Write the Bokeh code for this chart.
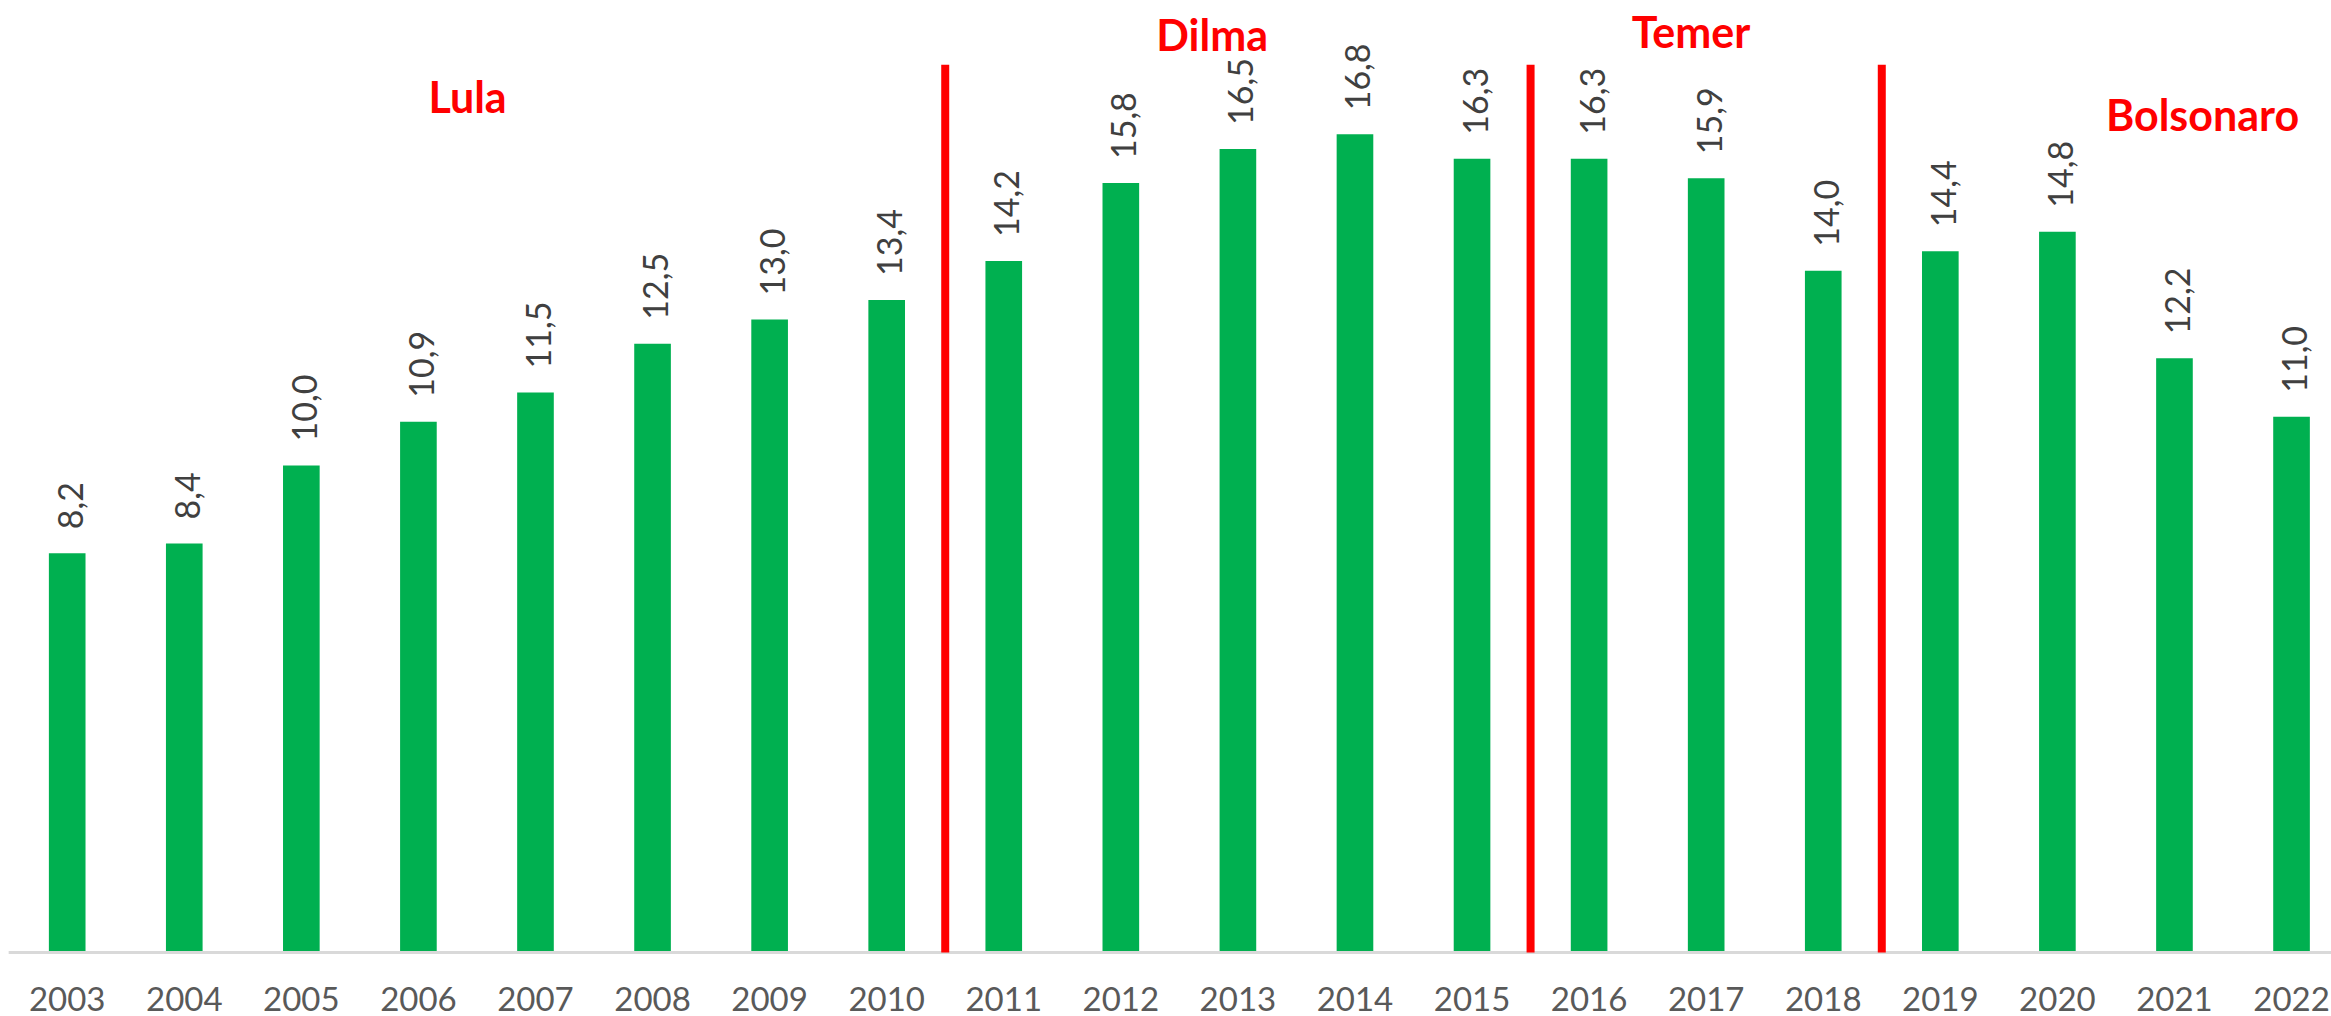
import math
from bokeh.plotting import figure
from bokeh.models import ColumnDataSource, Range1d, Label
from bokeh.core.properties import value
from bokeh.embed import file_html
from bokeh.resources import INLINE

# ---- data ----
years = ["2003", "2004", "2005", "2006", "2007", "2008", "2009", "2010", "2011", "2012",
         "2013", "2014", "2015", "2016", "2017", "2018", "2019", "2020", "2021", "2022"]
values = [8.2, 8.4, 10.0, 10.9, 11.5, 12.5, 13.0, 13.4, 14.2, 15.8,
          16.5, 16.8, 16.3, 16.3, 15.9, 14.0, 14.4, 14.8, 12.2, 11.0]
presidents = ["Lula", "Dilma", "Temer", "Bolsonaro"]
term_last_year = ["2010", "2015", "2018"]   # red separators after these years

idx = list(range(len(years)))
labels = [f"{v:.1f}".replace(".", ",") for v in values]
src = ColumnDataSource(dict(x=idx, top=values, label=labels, year=years, zero=[0] * len(idx)))

W, H = 2331, 1016
SPACING = 117.07
PX_PER_UNIT = 48.7
FIRST_X = 66.7
BASE_Y = 952
x_start = -FIRST_X / SPACING
x_end = x_start + W / SPACING
y_end = BASE_Y / PX_PER_UNIT
y_start = -(H - BASE_Y) / PX_PER_UNIT

p = figure(frame_width=W, frame_height=H,
           x_range=Range1d(x_start, x_end), y_range=Range1d(y_start, y_end),
           output_backend="svg", toolbar_location=None,
           min_border_left=0, min_border_right=0, min_border_top=0, min_border_bottom=0)
p.outline_line_color = None
p.background_fill_color = "white"
p.border_fill_color = "white"
p.xgrid.visible = False
p.ygrid.visible = False
p.xaxis.visible = False
p.yaxis.visible = False

p.vbar(x="x", top="top", bottom=0, width=0.313, source=src,
       fill_color="#00B050", line_color=None)

# category axis line
p.segment(x0=[-0.5], y0=[0], x1=[x_end], y1=[0], line_color="#D9D9D9", line_width=3)

# year labels
p.text(x="x", y="zero", text="year", source=src, text_align="center",
       text_baseline="middle", y_offset=46,
       text_font=value("Lato"), text_font_size="33px", text_color="#595959")

# value labels (rotated)
p.text(x="x", y="top", text="label", source=src, angle=math.pi / 2,
       text_align="left", text_baseline="middle", x_offset=3, y_offset=-24,
       text_font=value("Lato"), text_font_size="34px", text_color="#404040")

# separators
sep_x = [years.index(y) + 0.5 for y in term_last_year]
p.segment(x0=sep_x, y0=[0] * len(sep_x), x1=sep_x, y1=[18.23] * len(sep_x),
          line_color="#FF0000", line_width=8)

# president names
name_pos = [(3.42, 17.58), (9.78, 18.86), (13.87, 18.91), (18.24, 17.21)]
for name, (nx, ny) in zip(presidents, name_pos):
    p.add_layout(Label(x=nx, y=ny, text=name, text_align="center", text_baseline="middle",
                       text_font="Lato", text_font_style="bold", text_font_size="43px",
                       text_color="#FF0000"))

open("out.html", "w").write(file_html(p, INLINE))
